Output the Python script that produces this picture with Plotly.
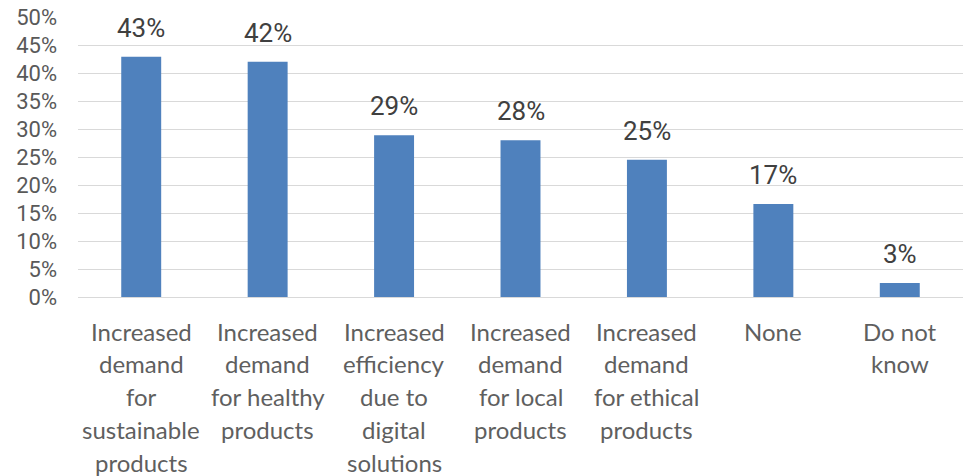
import plotly.graph_objects as go

categories = [
    "Increased<br>demand<br>for<br>sustainable<br>products",
    "Increased<br>demand<br>for healthy<br>products",
    "Increased<br>efficiency<br>due to<br>digital<br>solutions",
    "Increased<br>demand<br>for local<br>products",
    "Increased<br>demand<br>for ethical<br>products",
    "None",
    "Do not<br>know",
]
values = [0.429, 0.42, 0.289, 0.28, 0.245, 0.166, 0.025]
labels = ["43%", "42%", "29%", "28%", "25%", "17%", "3%"]
ytick_vals = [0, 0.05, 0.10, 0.15, 0.20, 0.25, 0.30, 0.35, 0.40, 0.45, 0.50]
ytick_text = ["0%", "5%", "10%", "15%", "20%", "25%", "30%", "35%", "40%", "45%", "50%"]

xs = list(range(len(categories)))

fig = go.Figure(go.Bar(
    x=xs, y=values, width=0.316,
    marker=dict(color="#4F81BD", line=dict(width=0)),
    hoverinfo="skip",
))

annotations = []
for x, v, t in zip(xs, values, labels):
    annotations.append(dict(
        x=x, y=v, xref="x", yref="y", text=t, showarrow=False,
        yanchor="middle", yshift=29,
        font=dict(family="Roboto", size=26, color="#404040"),
    ))
for x, c in zip(xs, categories):
    for i, line in enumerate(c.split("<br>")):
        annotations.append(dict(
            x=x, y=0, xref="x", yref="y", text=line, showarrow=False,
            yanchor="middle", yshift=-34 - 32.8 * i,
            font=dict(family="Lato", size=24, color="#5F5F5F"),
        ))

fig.update_layout(
    width=967, height=476,
    margin=dict(l=78, r=4, t=17, b=179),
    paper_bgcolor="white", plot_bgcolor="white",
    showlegend=False,
    annotations=annotations,
    xaxis=dict(
        range=[-0.5, len(categories) - 0.5],
        showticklabels=False, showgrid=False, zeroline=False,
        ticks="", fixedrange=True,
    ),
    yaxis=dict(
        range=[0, 0.5],
        tickvals=ytick_vals, ticktext=ytick_text,
        showgrid=True, gridcolor="#D9D9D9", gridwidth=1,
        zeroline=True, zerolinecolor="#D9D9D9", zerolinewidth=1,
        ticks="", ticklabelstandoff=20,
        tickfont=dict(family="Roboto", size=22, color="#595959"),
        fixedrange=True,
    ),
)

fig.write_html("out.html", config={"displayModeBar": False},
               post_script="document.body.style.margin='0';")
